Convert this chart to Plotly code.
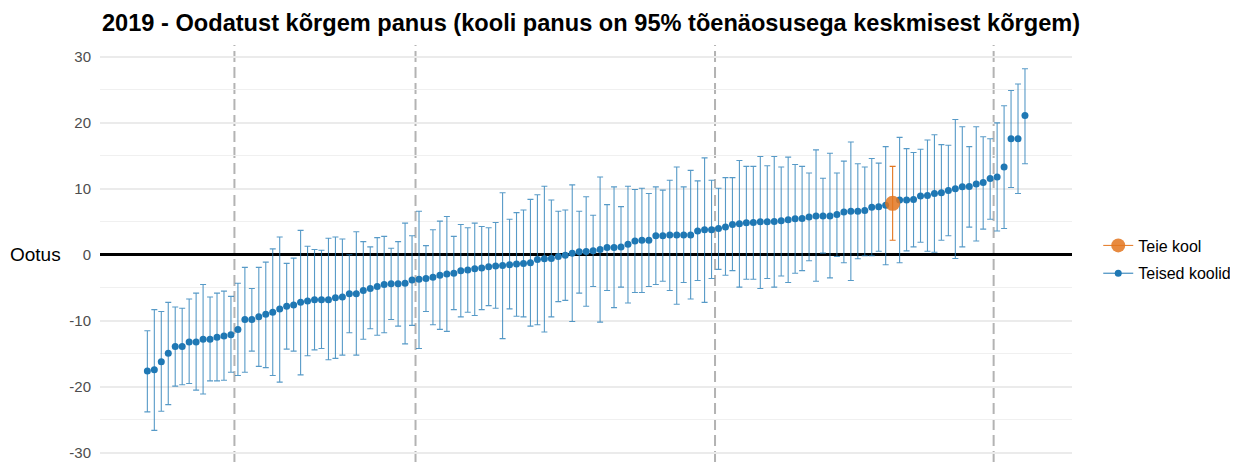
import plotly.graph_objects as go

# koolide hinnangud (sorteeritud) ja 95% usaldusvahemikud
hinnang = [
    -17.6, -17.4, -16.2, -14.9, -13.9, -13.9, -13.2, -13.2, -12.8, -12.8,
    -12.5, -12.3, -12.1, -11.3, -9.8, -9.8, -9.4, -9.0, -8.7, -8.2,
    -7.8, -7.6, -7.2, -7.0, -6.8, -6.8, -6.8, -6.5, -6.4, -5.9,
    -5.9, -5.4, -5.1, -4.8, -4.5, -4.4, -4.4, -4.3, -3.8, -3.7,
    -3.6, -3.4, -3.1, -2.9, -2.8, -2.4, -2.3, -2.1, -2.0, -1.8,
    -1.7, -1.6, -1.5, -1.4, -1.3, -1.2, -0.7, -0.6, -0.55, -0.25,
    -0.05, 0.25, 0.45, 0.5, 0.6, 0.8, 1.1, 1.1, 1.2, 1.6,
    2.1, 2.2, 2.2, 2.9, 2.9, 3.0, 3.0, 3.0, 3.0, 3.6,
    3.8, 3.8, 4.0, 4.2, 4.6, 4.7, 4.85, 4.9, 5.0, 5.0,
    5.05, 5.15, 5.3, 5.45, 5.5, 5.75, 5.9, 5.9, 5.9, 6.1,
    6.5, 6.6, 6.6, 6.7, 7.2, 7.3, 7.5, 7.8, 8.3, 8.3,
    8.4, 8.9, 9.0, 9.3, 9.4, 9.75, 10.0, 10.3, 10.35, 10.75,
    10.95, 11.55, 11.8, 13.3, 17.6, 17.6, 21.1,
]
alumine = [
    -23.8, -26.6, -23.7, -22.7, -19.9, -19.7, -19.5, -20.5, -21.1, -19.1,
    -19.1, -19.0, -17.8, -18.3, -17.8, -14.6, -16.9, -17.1, -18.3, -19.3,
    -14.3, -14.6, -18.2, -15.3, -14.4, -14.2, -15.9, -15.7, -15.2, -11.8,
    -15.2, -12.8, -11.2, -12.2, -11.8, -9.8, -10.8, -13.5, -10.7, -14.2,
    -8.6, -10.6, -11.3, -11.6, -8.3, -9.4, -8.7, -9.2, -8.3, -7.7,
    -8.1, -12.7, -8.2, -9.3, -9.4, -10.8, -10.6, -11.7, -9.4, -7.1,
    -6.9, -10.1, -5.8, -7.8, -4.8, -10.2, -5.4, -8.0, -4.9, -7.3,
    -5.7, -5.7, -4.8, -4.5, -4.0, -5.4, -7.5, -4.2, -6.7, -3.9,
    -7.2, -3.6, -2.2, -3.1, -2.4, -4.9, -3.7, -3.7, -5.1, -3.6,
    -4.9, -3.2, -4.2, -2.8, -2.4, -0.9, -4.0, 0.25, -3.5, -0.25,
    -1.2, -3.9, -0.6, -0.15, -0.15, 0.55, -1.5, 2.2, -1.2, 0.6,
    1.2, 1.9, 0.55, 0.4, 2.2, 2.9, -0.55, 1.2, 4.2, 2.1,
    3.9, 5.4, 3.6, 4.0, 10.2, 9.3, 13.8,
]
ulemine = [
    -11.5, -8.3, -8.6, -7.2, -7.9, -8.1, -6.7, -5.8, -4.5, -6.4,
    -5.8, -5.5, -6.3, -4.3, -1.9, -5.1, -1.9, -1.1, 0.9, 2.7,
    -1.3, -0.5, 3.7, 1.3, 0.8, 0.7, 2.5, 2.7, 2.4, 0.0,
    3.5, 2.0, 1.2, 2.6, 2.8, 1.0, 2.0, 4.8, 2.9, 6.6,
    1.4, 3.8, 5.1, 5.8, 2.8, 4.6, 4.1, 4.8, 4.3, 4.1,
    4.9, 9.4, 5.4, 6.4, 6.8, 8.4, 9.1, 10.4, 8.3, 6.6,
    6.8, 10.6, 6.6, 8.8, 6.0, 11.8, 7.6, 10.3, 7.3, 10.4,
    9.9, 10.1, 9.3, 10.3, 9.8, 11.3, 13.3, 10.3, 12.8, 11.2,
    14.7, 11.3, 10.1, 11.7, 11.7, 14.3, 13.4, 13.4, 14.9, 13.5,
    14.9, 13.3, 14.8, 13.7, 13.4, 12.4, 15.9, 11.6, 15.4, 12.4,
    14.2, 17.1, 13.8, 13.3, 14.6, 13.9, 16.4, 13.4, 17.8, 16.1,
    15.5, 16.0, 17.4, 18.2, 16.7, 16.6, 20.5, 19.4, 16.4, 19.4,
    17.9, 17.6, 20.0, 22.6, 24.9, 25.9, 28.2,
]
teie_kool = 107  # oma kooli järjekorranumber
piirid = [12.5, 38.5, 81.5, 121.5]  # kvantiilide piirjooned
y_tikid = [-30, -20, -10, 0, 10, 20, 30]

SININE = "#1f78b4"
ORANZ = "#e3761f"
FONT = "Liberation Sans, Arial, sans-serif"

# lehe body-l on 8px ääris, seega joonis on aknast 8px võrra väiksem
W, H = 1230, 454

teised = [i for i in range(len(hinnang)) if i != teie_kool]

fig = go.Figure()

fig.add_trace(go.Scatter(
    x=teised,
    y=[hinnang[i] for i in teised],
    mode="markers",
    marker=dict(color=SININE, size=7),
    error_y=dict(
        type="data", symmetric=False,
        array=[ulemine[i] - hinnang[i] for i in teised],
        arrayminus=[hinnang[i] - alumine[i] for i in teised],
        color="rgba(31,120,180,0.75)", thickness=1.1, width=3,
    ),
    showlegend=False,
))

fig.add_trace(go.Scatter(
    x=[teie_kool],
    y=[hinnang[teie_kool]],
    mode="markers",
    marker=dict(color=ORANZ, size=15, opacity=0.85),
    error_y=dict(
        type="data", symmetric=False,
        array=[ulemine[teie_kool] - hinnang[teie_kool]],
        arrayminus=[hinnang[teie_kool] - alumine[teie_kool]],
        color=ORANZ, thickness=1.1, width=3,
    ),
    showlegend=False,
))

# legendi kirjed
fig.add_trace(go.Scatter(
    x=[None], y=[None], mode="lines+markers", name="Teie kool",
    marker=dict(color=ORANZ, size=14, opacity=0.85),
    line=dict(color=ORANZ, width=1), legendgroup="a",
))
fig.add_trace(go.Scatter(
    x=[None], y=[None], mode="lines+markers", name="Teised koolid",
    marker=dict(color=SININE, size=7),
    line=dict(color=SININE, width=1), legendgroup="b",
))

for p in piirid:
    fig.add_shape(type="line", xref="x", yref="paper", x0=p, x1=p, y0=0, y1=1,
                  line=dict(color="#b3b3b3", width=2, dash="11px,5px"), layer="between")

fig.add_annotation(text="Ootus", xref="paper", yref="y", x=-0.038, y=0,
                   xanchor="right", yanchor="middle", showarrow=False,
                   font=dict(size=19, color="black", family=FONT))

fig.update_layout(
    width=W, height=H,
    margin=dict(l=92, r=166, t=37, b=0),
    paper_bgcolor="white", plot_bgcolor="white",
    font=dict(family=FONT),
    title=dict(
        text="2019 - Oodatust kõrgem panus (kooli panus on 95% tõenäosusega keskmisest kõrgem)",
        x=94 / W, xanchor="left", xref="container",
        y=1 - 15 / H, yanchor="middle", yref="container",
        font=dict(size=23.6, color="black", family=FONT, weight="bold"),
    ),
    xaxis=dict(range=[-6.8, 132.75], showgrid=False, showticklabels=False,
               zeroline=False, showline=False),
    yaxis=dict(
        range=[-31.4, 31.8],
        tickvals=y_tikid, ticktext=[str(v) for v in y_tikid],
        gridcolor="#ebebeb", gridwidth=1.5,
        minor=dict(dtick=5, tick0=0, showgrid=True, gridcolor="#f0f0f0", gridwidth=1),
        zeroline=True, zerolinecolor="black", zerolinewidth=2.5,
        ticks="", ticklabelstandoff=8, showline=False,
        tickfont=dict(size=15, color="#4d4d4d", family=FONT),
    ),
    legend=dict(
        x=1.027, xanchor="left", y=0.4856, yanchor="middle",
        font=dict(size=16, color="black", family=FONT),
        tracegroupgap=4, traceorder="grouped",
    ),
)

fig.write_html("out.html")
